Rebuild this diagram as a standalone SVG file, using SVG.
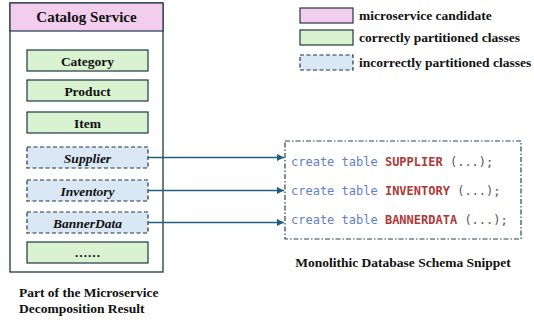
<svg xmlns="http://www.w3.org/2000/svg" width="534" height="320" viewBox="0 0 534 320">
<defs>
<marker id="ah" markerWidth="8" markerHeight="8" refX="7" refY="4" orient="auto" markerUnits="userSpaceOnUse">
<path d="M0,0.5 L7,4 L0,7.5 Z" fill="#1f5f80"/>
</marker>
<style>
.lbl{font-family:"Liberation Serif","Times New Roman",serif;font-weight:bold;fill:#111;}
.green{fill:#d9f2d0;stroke:#1e3644;stroke-width:1.2;}
.blue{fill:#dae8f5;stroke:#1e3644;stroke-width:1.2;stroke-dasharray:4 2.5;}
.pink{fill:#f2cdee;stroke:#1e3644;stroke-width:1.2;}
.code{font-family:"DejaVu Sans Mono","Liberation Mono",monospace;font-size:12px;}
.kw{fill:#5f80cf;}
.tb{fill:#b03838;font-weight:bold;}
.pn{fill:#555;}
.conn{stroke:#1f5f80;stroke-width:1.3;fill:none;}
</style>
</defs>
<rect width="534" height="320" fill="#fff"/>

<g id="catalog-service">
<rect x="10" y="3" width="153" height="269" fill="#fff" stroke="#1e3644" stroke-width="1.3"/>
<rect x="10" y="3" width="153" height="28" class="pink"/>
<text x="86.5" y="22" text-anchor="middle" class="lbl" font-size="15">Catalog Service</text>
</g>

<g id="category">
<rect x="27" y="50" width="121" height="21" class="green"/>
<text x="87.5" y="65.5" text-anchor="middle" class="lbl" font-size="13.5">Category</text>
</g>
<g id="product">
<rect x="27" y="80" width="121" height="21" class="green"/>
<text x="87.5" y="95.5" text-anchor="middle" class="lbl" font-size="13.5">Product</text>
</g>
<g id="item">
<rect x="27" y="112" width="121" height="21" class="green"/>
<text x="87.5" y="127.5" text-anchor="middle" class="lbl" font-size="13.5">Item</text>
</g>
<g id="supplier">
<rect x="27" y="147" width="121" height="21" class="blue"/>
<text x="87.5" y="162.5" text-anchor="middle" class="lbl" font-size="13.5" font-style="italic">Supplier</text>
</g>
<g id="inventory">
<rect x="27" y="180" width="121" height="21" class="blue"/>
<text x="87.5" y="195.5" text-anchor="middle" class="lbl" font-size="13.5" font-style="italic">Inventory</text>
</g>
<g id="bannerdata">
<rect x="27" y="212" width="121" height="21" class="blue"/>
<text x="87.5" y="227.5" text-anchor="middle" class="lbl" font-size="13.5" font-style="italic">BannerData</text>
</g>
<g id="more">
<rect x="27" y="242" width="121" height="21" class="green"/>
<text x="87.5" y="257" text-anchor="middle" class="lbl" font-size="13">……</text>
</g>

<g id="legend">
<rect x="300" y="8" width="53" height="15" class="pink"/>
<text x="359" y="19.5" class="lbl" font-size="13.5">microservice candidate</text>
<rect x="300" y="30" width="53" height="15" class="green"/>
<text x="359" y="41.5" class="lbl" font-size="13.5">correctly partitioned classes</text>
<rect x="300" y="55" width="53" height="15" class="blue"/>
<text x="359" y="66.5" class="lbl" font-size="13.5">incorrectly partitioned classes</text>
</g>

<g id="schema">
<rect x="285" y="141" width="236" height="98" fill="#fff" stroke="#2a4555" stroke-width="1.2" stroke-dasharray="5 2 1.5 2"/>
<text x="291" y="166" class="code"><tspan class="kw">create table </tspan><tspan class="tb">SUPPLIER</tspan><tspan class="pn"> (...);</tspan></text>
<text x="291" y="195" class="code"><tspan class="kw">create table </tspan><tspan class="tb">INVENTORY</tspan><tspan class="pn"> (...);</tspan></text>
<text x="291" y="224" class="code"><tspan class="kw">create table </tspan><tspan class="tb">BANNERDATA</tspan><tspan class="pn"> (...);</tspan></text>
</g>

<g id="connectors">
<line x1="148" y1="157.5" x2="284" y2="157.5" class="conn" marker-end="url(#ah)"/>
<line x1="148" y1="190.5" x2="284" y2="190.5" class="conn" marker-end="url(#ah)"/>
<line x1="148" y1="222.5" x2="284" y2="222.5" class="conn" marker-end="url(#ah)"/>
</g>

<g id="captions">
<text x="403" y="267" text-anchor="middle" class="lbl" font-size="13.5">Monolithic Database Schema Snippet</text>
<text x="19" y="297" class="lbl" font-size="13.5">Part of the Microservice</text>
<text x="19" y="313" class="lbl" font-size="13.5">Decomposition Result</text>
</g>
</svg>
